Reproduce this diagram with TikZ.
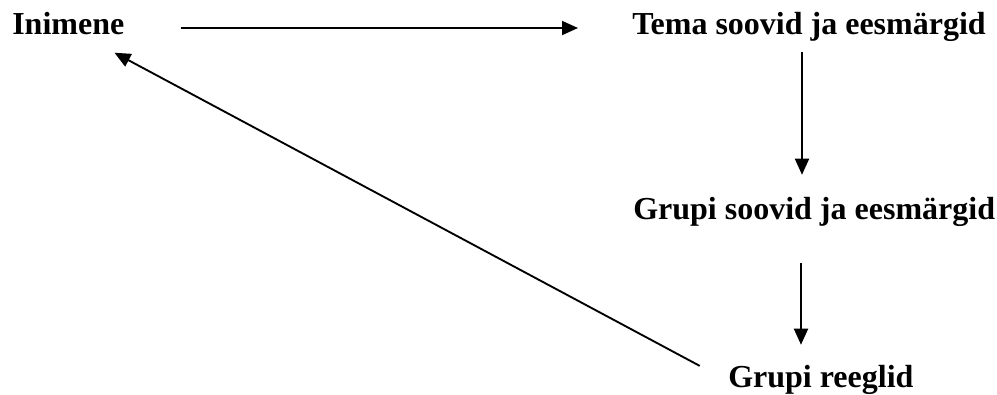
\documentclass[tikz,border=0pt]{standalone}
\usepackage{fontspec}
\setmainfont{Liberation Serif}
\usetikzlibrary{arrows.meta}
\begin{document}
\begin{tikzpicture}[x=0.75pt,y=-0.75pt,
  lbl/.style={font=\fontsize{24}{28}\selectfont\bfseries, inner sep=0pt, text height=16pt, text depth=7pt},
  arr/.style={line width=1.4pt, -{Triangle[length=12pt,width=10.5pt]}}]
\useasboundingbox (0,0) rectangle (997,394);
\node[lbl, anchor=base west] (a) at (12,34) {Inimene};
\node[lbl, anchor=base west] (b) at (632,34) {Tema soovid ja eesmärgid};
\node[lbl, anchor=base west] (d) at (633,219) {Grupi soovid ja eesmärgid};
\node[lbl, anchor=base west] (e) at (728,387) {Grupi reeglid};
\draw[arr, shorten <=42pt, shorten >=40.5pt] (a.east) -- (b.west);
\draw[arr, shorten <=6.5pt, shorten >=17pt] ([xshift=127.5pt]b.south west) -- ([xshift=127.5pt]b.south west |- d.north);
\draw[arr, shorten <=26pt, shorten >=15.5pt] ([xshift=126pt]d.south west) -- ([xshift=126pt]d.south west |- e.north);
\draw[arr, shorten <=24pt, shorten >=39.3pt] (e.west) -- (a.center);
\end{tikzpicture}
\end{document}
